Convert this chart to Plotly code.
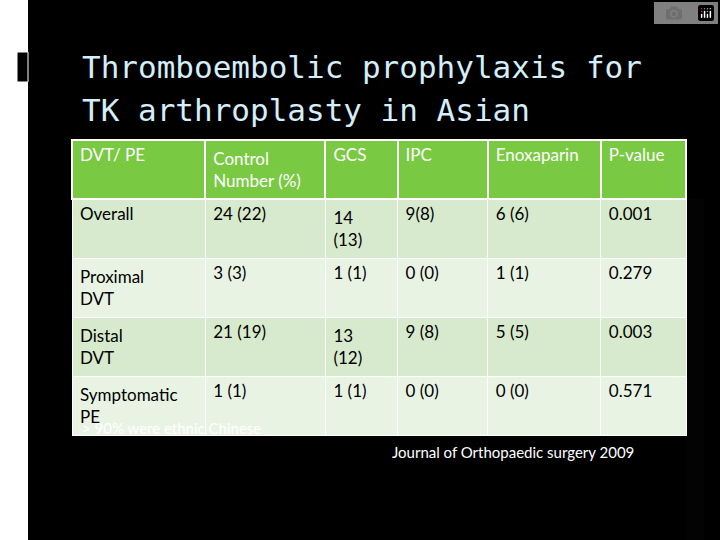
import plotly.graph_objects as go

headers = ["DVT/ PE", "Control<br>Number (%)", "GCS", "IPC", "Enoxaparin", "P-value"]
outcomes = ["Overall", "Proximal<br>DVT", "Distal<br>DVT", "Symptomatic<br>PE"]
control = ["24 (22)", "3 (3)", "21 (19)", "1 (1)"]
gcs = ["14 (13)", "1 (1)", "13 (12)", "1 (1)"]
ipc = ["9(8)", "0 (0)", "9 (8)", "0 (0)"]
enoxaparin = ["6 (6)", "1 (1)", "5 (5)", "0 (0)"]
p_values = ["0.001", "0.279", "0.003", "0.571"]

W, H = 720, 540
row_fill = ["#d7eacd", "#e9f3e4", "#d7eacd", "#e9f3e4"]


def px(x):
    return x / W


def py(y):
    return 1 - y / H


fig = go.Figure()

fig.add_trace(go.Table(
    domain=dict(x=[px(72), px(686)], y=[0, py(140)]),
    columnwidth=[133, 120, 72, 90, 113, 85],
    header=dict(values=headers, fill_color="#7ac943", line=dict(color="white", width=2),
                font=dict(family="Lato", size=17, color="white"),
                align="left", height=54),
    cells=dict(values=[outcomes, control, gcs, ipc, enoxaparin, p_values],
               fill_color=[row_fill] * 6, line=dict(color="white", width=1),
               font=dict(family="Lato", size=17, color="black"),
               align="left", height=33),
))

fig.update_layout(
    width=W, height=H,
    margin=dict(l=0, r=0, t=0, b=0),
    paper_bgcolor="white",
    shapes=[
        dict(type="rect", xref="paper", yref="paper", x0=px(28), x1=1, y0=0, y1=1,
             fillcolor="black", line_width=0, layer="below"),
        dict(type="rect", xref="paper", yref="paper", x0=px(17), x1=px(28), y0=py(82), y1=py(52),
             fillcolor="black", line=dict(color="white", width=1), layer="below"),
    ],
    annotations=[
        dict(x=px(80), y=py(67), xref="paper", yref="paper", xanchor="left", yanchor="middle",
             text="Thromboembolic prophylaxis for", showarrow=False,
             font=dict(family="DejaVu Sans Mono", size=31, color="#d4eefa")),
        dict(x=px(80), y=py(110), xref="paper", yref="paper", xanchor="left", yanchor="middle",
             text="TK arthroplasty in Asian", showarrow=False,
             font=dict(family="DejaVu Sans Mono", size=31, color="#d4eefa")),
        dict(x=px(80), y=py(428), xref="paper", yref="paper", xanchor="left", yanchor="middle",
             text="> 90% were ethnic Chinese", showarrow=False,
             font=dict(family="Lato", size=15, color="white")),
        dict(x=px(390), y=py(452), xref="paper", yref="paper", xanchor="left", yanchor="middle",
             text="Journal of Orthopaedic surgery 2009", showarrow=False,
             font=dict(family="Lato", size=15, color="white")),
    ],
)

# drop the page's default body margin so the slide fills the window
fig.write_html("out.html", post_script="document.body.style.margin='0';document.body.style.overflow='hidden';")
